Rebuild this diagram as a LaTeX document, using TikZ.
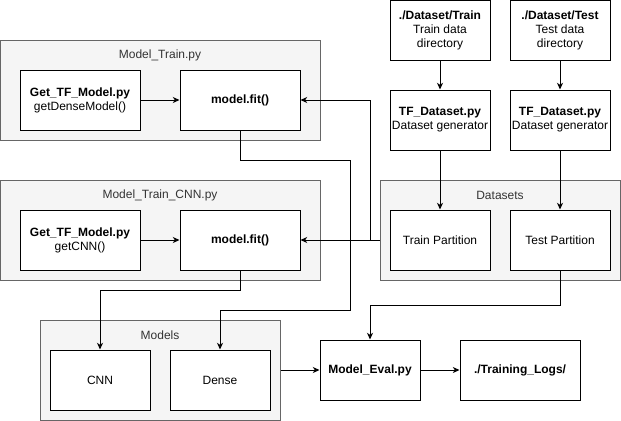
\documentclass[tikz,border=0pt]{standalone}
\usepackage{fontspec}
\setmainfont{Liberation Sans}
\usetikzlibrary{arrows.meta}
\definecolor{groupfill}{HTML}{F5F5F5}
\definecolor{groupline}{HTML}{666666}
\definecolor{grouptext}{HTML}{333333}

\begin{document}
\begin{tikzpicture}[x=0.75pt, y=-0.75pt, font=\fontsize{9pt}{10.5pt}\selectfont,
  group/.style={draw=groupline, fill=groupfill, line width=0.75pt, minimum height=75pt, inner sep=0pt},
  title/.style={text=grouptext},
  box/.style={draw, fill=white, line width=0.75pt, minimum width=90pt, minimum height=45pt, align=center, inner sep=0pt},
  sbox/.style={box, minimum width=75pt},
  arr/.style={line width=0.75pt, -{Stealth[length=5pt, width=4.5pt, inset=1.5pt]}}]
\useasboundingbox (0,0) rectangle (621,421);
% containers
\node[group, minimum width=240pt] (trainpy) at (160,90) {};
\node[group, minimum width=240pt] (cnnpy) at (160,230) {};
\node[group, minimum width=180pt] (datasets) at (500,230) {};
\node[group, minimum width=180pt] (models) at (160,370) {};
\node[title] (trainpyname) at (160,55) {Model\_Train.py};
\node[title] (cnnpyname) at (160,195) {Model\_Train\_CNN.py};
\node[title] (datasetsname) at (500,195) {Datasets};
\node[title] (modelsname) at (160,335) {Models};
% boxes
\node[box] (getdense) at (80,100) {\textbf{Get\_TF\_Model.py}\\getDenseModel()};
\node[box] (fitdense) at (240,100) {\textbf{model.fit()}};
\node[box] (getcnn) at (80,240) {\textbf{Get\_TF\_Model.py}\\getCNN()};
\node[box] (fitcnn) at (240,240) {\textbf{model.fit()}};
\node[sbox] (dirtrain) at (440,30) {\textbf{./Dataset/Train}\\Train data\\directory};
\node[sbox] (dirtest) at (560,30) {\textbf{./Dataset/Test}\\Test data\\directory};
\node[sbox] (gentrain) at (440,120) {\textbf{TF\_Dataset.py}\\Dataset generator};
\node[sbox] (gentest) at (560,120) {\textbf{TF\_Dataset.py}\\Dataset generator};
\node[sbox] (parttrain) at (440,240) {Train Partition};
\node[sbox] (parttest) at (560,240) {Test Partition};
\node[sbox] (cnn) at (100,380) {CNN};
\node[sbox] (dense) at (220,380) {Dense};
\node[sbox] (eval) at (370,370) {\textbf{Model\_Eval.py}};
\node[box] (logs) at (520,370) {\textbf{./Training\_Logs/}};
% connectors
\coordinate (split) at (370,240);
\draw[arr] (getdense) -- (fitdense);
\draw[arr] (getcnn) -- (fitcnn);
\draw[arr] (dirtrain) -- (gentrain);
\draw[arr] (dirtest) -- (gentest);
\draw[arr] (gentrain) -- (parttrain);
\draw[arr] (gentest) -- (parttest);
\draw[arr] (datasets.west |- split) -- (fitcnn.east);
\draw[arr] (split) |- (fitdense.east);
\draw[arr] (fitdense.south) -- ++(0,30) -| (350,310) -| (dense.north);
\draw[arr] (fitcnn.south) -- ++(0,20) -| (cnn.north);
\draw[arr] (parttest.south) -- ++(0,35) -| (eval.north);
\draw[arr] (models.east) -- (eval.west);
\draw[arr] (eval) -- (logs);
\end{tikzpicture}
\end{document}
